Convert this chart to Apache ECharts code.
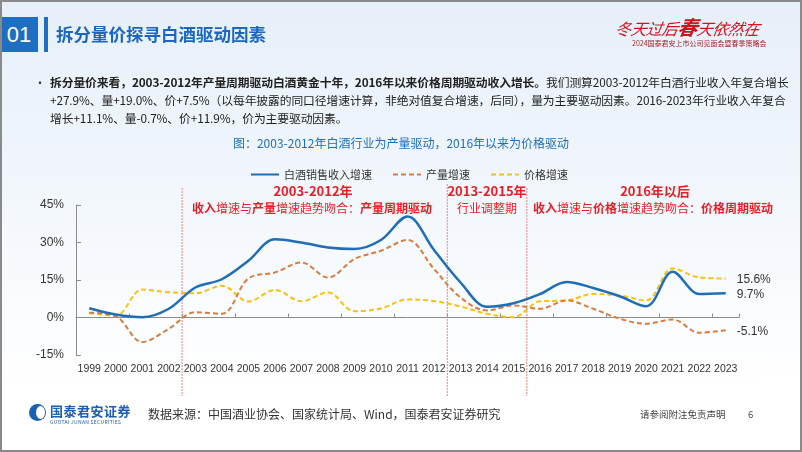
<!DOCTYPE html>
<html>
<head>
<meta charset="utf-8">
<script src="https://cdn.jsdelivr.net/npm/echarts@6/dist/echarts.min.js"></script>
<style>
  html,body{margin:0;padding:0;}
  body{width:802px;height:452px;position:relative;overflow:hidden;
    background:linear-gradient(180deg,#e6eff9 0%,#eef4fb 30%,#f7fafd 60%,#ffffff 85%);
    font-family:"Noto Sans CJK SC","Noto Sans",sans-serif;}
  .frame{position:absolute;left:0;top:0;width:798px;height:448px;border:2px solid #8a8a8a;pointer-events:none;z-index:10;}
  #chart{position:absolute;left:0;top:0;width:802px;height:452px;z-index:2;}
  .abs{position:absolute;white-space:nowrap;z-index:3;}
  .num{left:0;top:17px;width:38px;height:35px;background:#1e6ec4;color:#fff;font-size:22px;line-height:35px;text-align:center;font-family:"Liberation Sans","Noto Sans",sans-serif;}
  .bar{left:44px;top:17px;width:4px;height:35px;background:#1e6ec4;}
  .title{left:56px;top:22px;font-size:17.5px;font-weight:bold;color:#1a67bd;line-height:24px;}
  .bul{left:50px;font-size:11.8px;color:#222;line-height:18px;letter-spacing:-0.1px;}
  .dot{left:34px;top:74px;font-size:12px;color:#333;}
  .ctitle{left:0;width:802px;text-align:center;top:134px;font-size:12px;color:#1a6fc0;}
  .red{color:#ec1c24;font-size:12px;}
  .ann b{font-weight:bold;}
</style>
</head>
<body>
<div class="frame"></div>
<div class="abs num">01</div>
<div class="abs bar"></div>
<div class="abs title">拆分量价探寻白酒驱动因素</div>
<div class="abs" style="left:616px;top:12px;font-size:16px;color:#d0141e;font-style:italic;font-family:'Noto Sans CJK SC';letter-spacing:-0.5px;transform:skewX(-10deg);">冬天过后<span style="font-size:20px;font-weight:bold;">春</span>天依然在</div>
<div class="abs" style="left:632px;top:38px;font-size:7px;color:#a0252c;">2024国泰君安上市公司见面会暨春季策略会</div>

<div class="abs dot">•</div>
<div class="abs bul" style="top:73px;"><b>拆分量价来看，2003-2012年产量周期驱动白酒黄金十年，2016年以来价格周期驱动收入增长。</b>我们测算2003-2012年白酒行业收入年复合增长</div>
<div class="abs bul" style="top:91px;">+27.9%、量+19.0%、价+7.5%（以每年披露的同口径增速计算，非绝对值复合增速，后同），量为主要驱动因素。2016-2023年行业收入年复合</div>
<div class="abs bul" style="top:109px;">增长+11.1%、量-0.7%、价+11.9%，价为主要驱动因素。</div>
<div class="abs ctitle">图：2003-2012年白酒行业为产量驱动，2016年以来为价格驱动</div>

<div class="abs red" style="left:313px;top:181px;transform:translateX(-50%);font-weight:bold;font-size:13px;">2003-2012年</div>
<div class="abs red ann" style="left:192px;top:199px;"><b>收入</b>增速与<b>产量</b>增速趋势吻合：<b>产量周期驱动</b></div>
<div class="abs red" style="left:487px;top:181px;transform:translateX(-50%);font-weight:bold;font-size:13px;">2013-2015年</div>
<div class="abs red" style="left:487px;top:199px;transform:translateX(-50%);">行业调整期</div>
<div class="abs red" style="left:655px;top:181px;transform:translateX(-50%);font-weight:bold;font-size:13px;">2016年以后</div>
<div class="abs red ann" style="left:533px;top:199px;"><b>收入</b>增速与<b>价格</b>增速趋势吻合：<b>价格周期驱动</b></div>

<div class="abs" style="left:29px;top:404px;width:17px;height:17px;border-radius:50%;background:#1a5fb4;"></div>
<div class="abs" style="left:36px;top:406px;width:9px;height:13px;border-radius:50%;background:#fff;"></div>
<div class="abs" style="left:50px;top:401px;font-size:13px;font-weight:bold;color:#1a5fb4;letter-spacing:0.5px;">国泰君安证券</div>
<div class="abs" style="left:50px;top:418px;font-size:5px;color:#1a5fb4;letter-spacing:0.3px;">GUOTAI JUNAN SECURITIES</div>
<div class="abs" style="left:148px;top:405px;font-size:12px;color:#333;">数据来源：中国酒业协会、国家统计局、Wind，国泰君安证券研究</div>
<div class="abs" style="left:640px;top:407px;font-size:9.5px;color:#444;">请参阅附注免责声明</div>
<div class="abs" style="left:748px;top:407px;font-size:9.5px;color:#444;">6</div>

<div id="chart"></div>
<script>
const years = ['1999','2000','2001','2002','2003','2004','2005','2006','2007','2008','2009','2010','2011','2012','2013','2014','2015','2016','2017','2018','2019','2020','2021','2022','2023'];
const revenueGrowth = [3.7,1.2,0.1,3.5,12.0,15.3,22.7,31.3,30.0,28.0,27.4,31.0,40.4,27.0,14.0,4.3,5.7,9.4,14.2,11.8,8.5,4.5,18.3,9.4,9.7];
const volumeGrowth = [1.9,0.5,-9.8,-4.5,2.1,1.5,15.6,18.0,22.0,16.0,23.4,26.7,31.0,19.4,8.0,2.8,4.8,3.5,6.8,3.5,-0.5,-2.5,-0.8,-6.1,-5.1];
const priceGrowth = [1.7,0.8,11.2,10.1,9.7,12.7,6.4,11.0,6.5,10.0,2.5,3.6,7.2,6.6,4.4,1.5,0.1,6.5,6.8,9.4,8.8,6.8,19.6,16.0,15.6];
const yTicks = {min:-15,max:45,interval:15};
const seriesNames = ['白酒销售收入增速','产量增速','价格增速'];
const dividerAfter = ['2002','2012','2015'];

const chart = echarts.init(document.getElementById('chart'), null, {renderer:'canvas'});
const latin = '"Liberation Sans",Arial,sans-serif';
chart.setOption({
  backgroundColor:'transparent',
  animation:false,
  grid:{left:76,right:63,top:205,bottom:97},
  legend:{
    top:164,left:245,itemWidth:28,itemHeight:10,itemGap:20,
    itemStyle:{opacity:0},
    textStyle:{fontSize:11,color:'#333',fontFamily:'"Noto Sans CJK SC"'},
    data:seriesNames
  },
  xAxis:[{
    type:'category',data:years,boundaryGap:true,
    axisLine:{onZero:true,lineStyle:{color:'#8c8c8c',width:1}},
    axisTick:{show:true,inside:true,length:4,lineStyle:{color:'#8c8c8c'}},
    axisLabel:{show:false}
  },{
    type:'category',data:years,boundaryGap:true,position:'bottom',
    axisLine:{show:false,onZero:false},axisTick:{show:false},
    axisLabel:{show:true,interval:0,margin:9,fontSize:10.5,color:'#333',fontFamily:latin}
  }],
  yAxis:{
    type:'value',min:yTicks.min,max:yTicks.max,interval:yTicks.interval,
    axisLine:{show:true,lineStyle:{color:'#8c8c8c'}},
    axisTick:{show:true,inside:true,length:5,lineStyle:{color:'#8c8c8c'}},
    splitLine:{show:false},
    axisLabel:{formatter:'{value}%',margin:12,fontSize:12,color:'#333',fontFamily:latin}
  },
  series:[
    {name:seriesNames[0],type:'line',data:revenueGrowth,smooth:0.35,symbol:'none',z:5,
      lineStyle:{color:'#1f6db5',width:2.5},itemStyle:{color:'#1f6db5'}},
    {name:seriesNames[1],type:'line',data:volumeGrowth,smooth:0.35,symbol:'none',z:4,
      lineStyle:{color:'#dc7a3c',width:2,type:[5,3]},itemStyle:{color:'#dc7a3c'}},
    {name:seriesNames[2],type:'line',data:priceGrowth,smooth:0.35,symbol:'none',z:3,
      lineStyle:{color:'#f9c10e',width:2,type:[5,3]},itemStyle:{color:'#f9c10e'}}
  ]
});
// red dashed divider lines at category boundaries + end-value labels
const tops = [188,184,188];
const g = dividerAfter.map((yr,i)=>{
  const idx = years.indexOf(yr);
  const x = (chart.convertToPixel({xAxisIndex:0}, years[idx]) + chart.convertToPixel({xAxisIndex:0}, years[idx+1]))/2;
  return {type:'line',shape:{x1:x,y1:tops[i],x2:x,y2:396},style:{stroke:'#f08080',lineWidth:1,lineDash:[2,1]},z:1};
});
const last = years.length-1;
[revenueGrowth,volumeGrowth,priceGrowth].forEach(arr=>{
  const p = chart.convertToPixel({xAxisIndex:0,yAxisIndex:0},[years[last],arr[last]]);
  g.push({type:'text',x:p[0]+11,y:p[1]+1,style:{text:arr[last]+'%',fill:'#333',font:'12px "Liberation Sans",Arial,sans-serif',textVerticalAlign:'middle',verticalAlign:'middle'},z:10});
});
chart.setOption({graphic:g});
</script>
</body>
</html>
